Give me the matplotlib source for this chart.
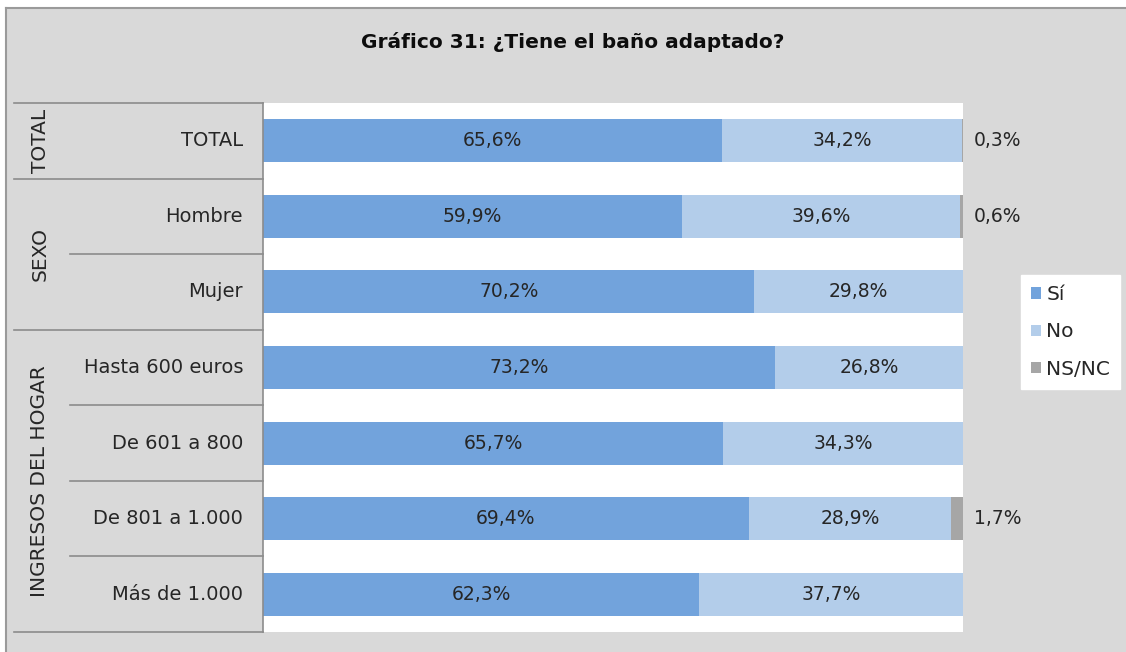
import matplotlib.pyplot as plt
from matplotlib.patches import Rectangle
from matplotlib.lines import Line2D
import matplotlib.transforms as mtransforms

plt.rcParams['font.family'] = ['DejaVu Sans']

categories = ["TOTAL", "Hombre", "Mujer", "Hasta 600 euros",
              "De 601 a 800", "De 801 a 1.000", "Más de 1.000"]
groups = ["TOTAL", "SEXO", "INGRESOS DEL HOGAR"]
group_rows = [(0, 0), (1, 2), (3, 6)]
si = [65.6, 59.9, 70.2, 73.2, 65.7, 69.4, 62.3]
no = [34.2, 39.6, 29.8, 26.8, 34.3, 28.9, 37.7]
nsnc = [0.3, 0.6, 0.0, 0.0, 0.0, 1.7, 0.0]
series = ["Sí", "No", "NS/NC"]
colors = ["#72a3dc", "#b3cdea", "#a6a6a6"]

bg = "#d9d9d9"
line_c = "#8c8c8c"
txt_c = "#262626"
W, H = 1126, 652

fig = plt.figure(figsize=(11.26, 6.52), dpi=100, facecolor="white")
# chart area: gray with a border on top and left only
fig.patches.append(Rectangle((6 / W, 0), 1, 1 - 8 / H, transform=fig.transFigure,
                             facecolor=bg, edgecolor="none", zorder=-10))
fig.lines.append(Line2D([6 / W, 1], [1 - 8 / H, 1 - 8 / H], transform=fig.transFigure,
                        color="#9a9a9a", lw=1.5))
fig.lines.append(Line2D([6 / W, 6 / W], [0, 1 - 8 / H], transform=fig.transFigure,
                        color="#9a9a9a", lw=1.5))

ax = fig.add_axes([263 / W, 1 - 632 / H, 700 / W, 529 / H])
ax.set_facecolor("white")

y = list(range(len(categories)))
h = 0.57
left_ns = [a + b for a, b in zip(si, no)]
ax.barh(y, si, height=h, color=colors[0], label=series[0])
ax.barh(y, no, left=si, height=h, color=colors[1], label=series[1])
ax.barh(y, nsnc, left=left_ns, height=h, color=colors[2], label=series[2])

fmt = lambda v: f"{v:.1f}%".replace(".", ",")
for i in y:
    ax.text(si[i] / 2, i, fmt(si[i]), ha="center", va="center", fontsize=13.5, color=txt_c)
    ax.text(si[i] + no[i] / 2, i, fmt(no[i]), ha="center", va="center", fontsize=13.5, color=txt_c)
    if nsnc[i] > 0:
        ax.text(101.6, i, fmt(nsnc[i]), ha="left", va="center", fontsize=13.5,
                color=txt_c, clip_on=False)

ax.set_xlim(0, 100)
ax.set_ylim(6.5, -0.5)
ax.set_xticks([])
ax.set_yticks([])
for s in ax.spines.values():
    s.set_visible(False)

# label table on the left
tr = mtransforms.blended_transform_factory(fig.transFigure, ax.transData)
x0, x1, xmid = 14 / W, 263 / W, 70 / W
starts = [g[0] for g in group_rows]
for b in range(len(categories) + 1):
    yb = b - 0.5
    xs = x0 if (b in starts or b == len(categories)) else xmid
    ax.plot([xs, x1], [yb, yb], transform=tr, color=line_c, lw=1.2, clip_on=False)
ax.plot([x1, x1], [-0.5, 6.5], transform=tr, color=line_c, lw=1.2, clip_on=False)

for i, c in enumerate(categories):
    ax.text(243 / W, i, c, transform=tr, ha="right", va="center", fontsize=14, color=txt_c)
for g, (a, b) in zip(groups, group_rows):
    ax.text(40 / W, (a + b) / 2, g, transform=tr, ha="center", va="center",
            rotation=90, fontsize=14.5, color=txt_c)

fig.text(573 / W, 1 - 42 / H, "Gráfico 31: ¿Tiene el baño adaptado?", ha="center",
         va="center", fontsize=14.5, fontweight="bold", color="#0d0d0d")

leg = fig.legend(loc="center left", bbox_to_anchor=(1021 / W, 1 - 332 / H),
                 frameon=True, fancybox=False, edgecolor="white", facecolor="white",
                 fontsize=14.5, handlelength=0.5, handleheight=0.5, handletextpad=0.25,
                 labelspacing=0.9, borderpad=0.5, borderaxespad=0, framealpha=1)
for t in leg.get_texts():
    t.set_color(txt_c)

fig.savefig("out.png", dpi=100, facecolor="white")
